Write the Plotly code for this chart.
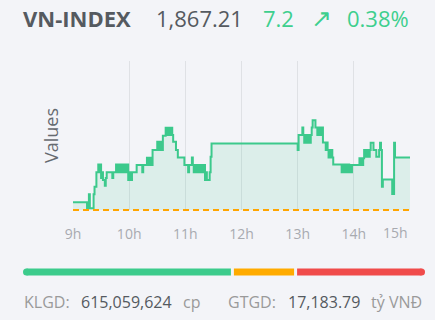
import pandas as pd
import plotly.graph_objects as go

# ---------------- data ----------------
index_name = "VN-INDEX"
last_price = 1867.21
change = 7.2
change_pct = 0.38
ref_price = 1860.01

times = [
    "09:00", "09:15", "09:17", "09:18", "09:22", "09:23", "09:25", "09:27", "09:28", "09:29",
    "09:30", "09:31", "09:32", "09:34", "09:35", "09:36", "09:42", "09:43", "09:46", "09:47",
    "09:48", "09:49", "09:50", "09:51", "09:52", "09:53", "09:54", "09:55", "09:56", "09:57",
    "09:58", "09:59", "10:00", "10:02", "10:03", "10:08", "10:14", "10:15", "10:19", "10:20",
    "10:21", "10:22", "10:23", "10:24", "10:25", "10:30", "10:31", "10:32", "10:33", "10:34",
    "10:35", "10:36", "10:39", "10:40", "10:41", "10:42", "10:43", "10:44", "10:45", "10:46",
    "10:47", "10:50", "10:52", "10:59", "11:03", "11:04", "11:07", "11:08", "11:09", "11:10",
    "11:11", "11:12", "11:13", "11:14", "11:15", "11:16", "11:17", "11:18", "11:19", "11:20",
    "11:21", "11:22", "11:23", "11:26", "11:27", "11:28", "11:30",
    "13:00", "13:01", "13:05", "13:06", "13:07", "13:08", "13:09", "13:10", "13:11", "13:12",
    "13:13", "13:14", "13:15", "13:16", "13:19", "13:21", "13:22", "13:23", "13:24", "13:25",
    "13:26", "13:27", "13:30", "13:31", "13:32", "13:33", "13:34", "13:35", "13:36", "13:37",
    "13:38", "13:47", "13:48", "13:49", "13:50", "13:51", "13:52", "13:53", "13:54", "13:55",
    "13:56", "13:57", "13:58", "14:06", "14:07", "14:08", "14:09", "14:10", "14:11", "14:12",
    "14:13", "14:14", "14:15", "14:16", "14:17", "14:18", "14:21", "14:24", "14:27", "14:28",
    "14:29", "14:30", "14:31", "14:41", "14:43", "14:44", "15:00",
]
values = [
    1861.06, 1860.24, 1862.15, 1860.24, 1862.15, 1863.19, 1865.16, 1866.25, 1865.16, 1866.25,
    1864.38, 1865.16, 1864.11, 1863.33, 1864.38, 1865.16, 1864.38, 1865.16, 1866.25, 1865.16,
    1866.25, 1865.16, 1866.25, 1865.16, 1866.25, 1865.16, 1866.25, 1865.16, 1866.25, 1865.16,
    1866.25, 1864.11, 1865.16, 1864.11, 1865.16, 1866.16, 1865.16, 1866.16, 1867.15, 1866.16,
    1867.15, 1866.16, 1867.15, 1866.16, 1868.21, 1869.34, 1868.21, 1869.34, 1868.21, 1869.34,
    1868.21, 1870.16, 1871.25, 1870.26, 1871.25, 1870.26, 1871.25, 1870.26, 1871.25, 1870.26,
    1869.34, 1868.21, 1867.21, 1866.16, 1865.16, 1866.16, 1867.21, 1866.16, 1865.16, 1866.16,
    1865.16, 1866.16, 1865.16, 1866.16, 1865.16, 1866.16, 1865.16, 1866.16, 1865.16, 1866.16,
    1864.11, 1865.16, 1864.11, 1865.16, 1867.29, 1869.12, 1869.12,
    1868.21, 1870.26, 1871.31, 1870.26, 1869.20, 1870.26, 1869.20, 1870.26, 1869.20, 1870.26,
    1869.20, 1870.26, 1871.31, 1872.30, 1871.31, 1870.26, 1871.31, 1870.26, 1871.31, 1870.26,
    1871.31, 1869.26, 1868.21, 1869.26, 1868.21, 1867.21, 1868.21, 1867.21, 1868.21, 1867.21,
    1866.25, 1865.16, 1866.25, 1865.16, 1866.25, 1865.16, 1866.25, 1865.16, 1866.25, 1865.16,
    1866.16, 1865.16, 1866.16, 1867.08, 1866.16, 1867.08, 1866.16, 1867.08, 1868.21, 1867.29,
    1868.21, 1867.29, 1868.21, 1867.29, 1868.21, 1869.20, 1868.21, 1867.29, 1868.21, 1869.20,
    1868.21, 1863.19, 1864.20, 1862.20, 1869.20, 1867.21, 1867.21,
]
y_max = 1880.4

tick_hours = [9, 10, 11, 12, 13, 14]
tick_labels = ["9h", "10h", "11h", "12h", "13h", "14h"]
last_tick_label = "15h"

breadth_shares = [0.525, 0.152, 0.323]   # up / unchanged / down
breadth_colors = ["#3ccb8c", "#ffab00", "#f04b4b"]

volume_label, volume_value, volume_unit = "KLGD:", "615,059,624", "cp"
value_label, value_value, value_unit = "GTGD:", "17,183.79", "tỷ VNĐ"

# ---------------- figure ----------------
DAY = "2025-01-02 "
x = pd.to_datetime([DAY + t for t in times])

W, H = 435, 320
L, R, T, B = 73, 25, 61, 110
PW, PH = W - L - R, H - T - B


def px(xp):
    return (xp - L) / PW


def py(yp):
    return (H - B - yp) / PH


BG = "#f3f4f8"
GREEN = "#3cc98c"
FONT = "Open Sans"

fig = go.Figure()
fig.add_trace(go.Scatter(
    x=x, y=values, mode="lines", line=dict(color=GREEN, width=2, shape="hv"),
    fill="tozeroy", fillcolor="rgba(60,201,140,0.12)", hoverinfo="skip",
))

# reference-price line (paper coords so it is not clipped at the axis bottom)
ref_frac = (ref_price - ref_price) / (y_max - ref_price)
shapes = [
    dict(type="line", xref="paper", x0=0, x1=1, yref="paper", y0=ref_frac, y1=ref_frac,
         line=dict(color="#ffa500", width=2, dash="6px,4px"), layer="above"),
]

# breadth bar
bar_x0, bar_x1, gap, bar_yc, bar_h = 23, 425, 3, 272, 7
usable = bar_x1 - bar_x0 - gap * (len(breadth_shares) - 1)
cur = bar_x0
for i, (s, c) in enumerate(zip(breadth_shares, breadth_colors)):
    w = usable * s
    a, b = cur, cur + w
    ra = a + bar_h / 2 if i == 0 else a
    rb = b - bar_h / 2 if i == len(breadth_shares) - 1 else b
    shapes.append(dict(type="rect", xref="paper", yref="paper", x0=px(ra), x1=px(rb),
                       y0=py(bar_yc + bar_h / 2), y1=py(bar_yc - bar_h / 2),
                       fillcolor=c, line=dict(width=0), layer="above"))
    if i == 0:
        shapes.append(dict(type="circle", xref="paper", yref="paper", x0=px(a), x1=px(a + bar_h),
                           y0=py(bar_yc + bar_h / 2), y1=py(bar_yc - bar_h / 2),
                           fillcolor=c, line=dict(width=0), layer="above"))
    if i == len(breadth_shares) - 1:
        shapes.append(dict(type="circle", xref="paper", yref="paper", x0=px(b - bar_h), x1=px(b),
                           y0=py(bar_yc + bar_h / 2), y1=py(bar_yc - bar_h / 2),
                           fillcolor=c, line=dict(width=0), layer="above"))
    cur = b + gap

ann = []


def text(xp, yp, s, size, color, bold=False, anchor="left"):
    ann.append(dict(x=px(xp), y=py(yp), xref="paper", yref="paper", text=f"<b>{s}</b>" if bold else s,
                    showarrow=False, xanchor=anchor, yanchor="middle",
                    font=dict(family=FONT, size=size, color=color)))


HGREEN = "#3ecf8e"
text(21, 18, index_name, 22, "#555a60", bold=True)
text(154, 18, f"{last_price:,.2f}", 22, "#555a60")
text(261, 18, f"{change}", 22, HGREEN)
text(309, 17, "↗", 25, HGREEN)
text(345, 18, f"{change_pct:.2f}%", 22, HGREEN)

text(22, 302, volume_label, 16, "#9a9a9a")
text(79, 302, volume_value, 16, "#555a60")
text(181, 302, volume_unit, 16, "#9a9a9a")
text(226, 302, value_label, 16, "#9a9a9a")
text(286, 302, value_value, 16, "#555a60")
text(369, 302, value_unit, 16, "#9a9a9a")

# last x tick label, right-aligned at the axis end
ann.append(dict(x=pd.Timestamp(DAY + "15:00"), y=0, xref="x", yref="paper", text=last_tick_label,
                showarrow=False, xanchor="right", yanchor="top", yshift=-11,
                font=dict(family=FONT, size=14, color="#a8aab0")))

fig.update_layout(
    width=W, height=H, margin=dict(l=L, r=R, t=T, b=B),
    paper_bgcolor=BG, plot_bgcolor=BG, showlegend=False,
    shapes=shapes, annotations=ann,
    font=dict(family=FONT),
    xaxis=dict(
        type="date", range=[pd.Timestamp(DAY + "09:00"), pd.Timestamp(DAY + "15:00")],
        tickvals=[pd.Timestamp(DAY + f"{h:02d}:00") for h in tick_hours] + [pd.Timestamp(DAY + "15:00")],
        ticktext=tick_labels + [""],
        showgrid=True, gridcolor="#dfe1e5", gridwidth=1,
        zeroline=False, showline=False, ticks="", ticklabelstandoff=14,
        tickfont=dict(family=FONT, size=14, color="#a8aab0"),
    ),
    yaxis=dict(
        range=[ref_price, y_max], showgrid=False, zeroline=False, showline=False,
        showticklabels=False, ticks="",
        title=dict(text="Values", font=dict(family=FONT, size=18, color="#666a70"), standoff=8),
    ),
)

fig.write_html("out.html")
